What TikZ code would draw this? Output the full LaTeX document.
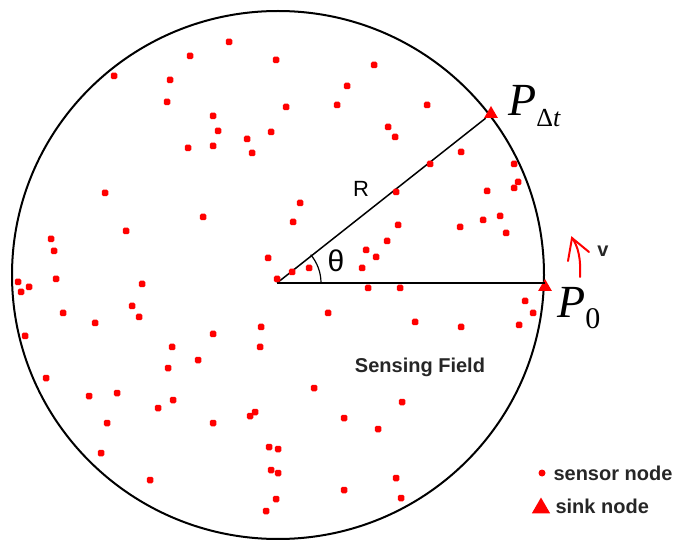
\documentclass[tikz,border=0pt]{standalone}
\usepackage{fontspec}
\setmainfont{Liberation Serif}
\setsansfont{Liberation Sans}
\usetikzlibrary{shapes,arrows,positioning,calc}

\begin{document}
\begin{tikzpicture}[x=1pt, y=-1pt,
        sensor/.style={rectangle, rounded corners=1.5pt, fill=red, inner sep=0pt, minimum size=6.5pt},
        sink/.style={regular polygon, regular polygon sides=3, fill=red, inner sep=0pt, minimum size=16pt},
        lbl/.style={font=\sffamily\bfseries\fontsize{20}{22}\selectfont, text=black!85},
        plbl/.style={anchor=base west, inner sep=0pt, font=\fontsize{46}{46}\selectfont}]
        \useasboundingbox (0,0) rectangle (678,540);
        % sensing field border
        \draw[line width=2pt] (278,275) ellipse [x radius=266, y radius=264];
        \coordinate (O) at (277,283);
        \node[sink] (P0) at (545,287) {};
        \node[sink] (Pdt) at (491,114) {};
        \draw[line width=1.5pt] (O) -- (O -| P0);
        \draw[line width=1.5pt] (O) -- (Pdt);
        \draw[line width=1.2pt] ($(O)+(44,0)$) arc[start angle=0, end angle=-40, radius=44];
        % sensor nodes
        \foreach \x/\y [count=\i] in {229/42, 190/56, 276/60, 114/76, 170/80, 167/102, 286/107, 337/105,
                374/65, 347/86, 427/105, 213/116, 218/131, 271/132, 247/139, 188/148, 213/146, 252/153,
                388/127, 395/137, 430/164, 461/152, 514/164, 518/182, 514/188, 487/191, 396/192, 300/203,
                293/222, 398/225, 460/227, 483/220, 500/216, 105/193, 203/217, 126/231, 51/239, 54/251,
                268/258, 18/282, 29/287, 21/292, 56/279, 142/284, 132/306, 139/317, 63/313, 95/323,
                213/334, 261/327, 172/347, 260/347, 25/336, 292/272, 309/268, 366/250, 387/241, 376/257,
                362/268, 368/288, 400/288, 328/313, 415/322, 461/327, 506/233, 525/301, 533/313, 519/325,
                198/360, 168/368, 46/378, 89/396, 117/393, 173/400, 158/408, 314/388, 255/412, 250/416,
                107/423, 213/423, 101/453, 269/447, 278/449, 271/470, 278/473, 150/480, 276/499, 266/511,
                402/402, 344/418, 378/429, 396/478, 344/490, 401/498, 277/279}
            \node[sensor] (s\i) at (\x,\y) {};
        % labels
        \node[font=\sffamily\fontsize{22}{24}\selectfont] (R) at (361,189) {R};
        \node[font=\sffamily\fontsize{30}{32}\selectfont] (theta) at (336,261) {θ};
        \node[plbl] (lPdt) at (508,116) {\textit{P}\raisebox{-11pt}{\fontsize{26}{26}\selectfont Δ\textit{t}}};
        \node[plbl] (lP0) at (557,318) {\textit{P}\raisebox{-11pt}{\fontsize{30}{30}\selectfont 0}};
        \node[lbl] (field) at (420,367) {Sensing Field};
        % velocity of the sink
        \coordinate (vs) at (580,277);
        \coordinate (vt) at (572,238);
        \draw[red, line width=2pt, line cap=round] (vs) .. controls (581,258) and (578,246) .. (vt);
        \draw[red, line width=2pt, line cap=round] (568,261) -- (vt) -- (589,252);
        \node[lbl] (v) at (603,251) {v};
        % legend
        \node[sensor, minimum size=7pt, circle] (lgs) at (542,473) {};
        \node[lbl, anchor=west] (lgst) at (550,473) {sensor node};
        \node[sink, minimum size=21pt] (lgk) at (541,508) {};
        \node[lbl, anchor=west] (lgkt) at (552,506) {sink node};
\end{tikzpicture}
\end{document}
